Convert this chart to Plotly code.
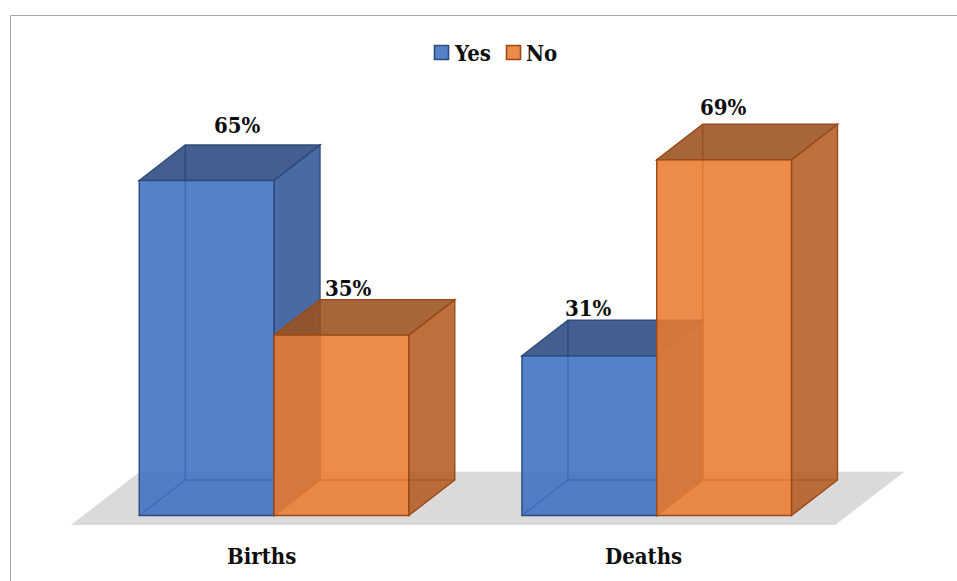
import plotly.graph_objects as go

# ---- data ----
categories = ["Births", "Deaths"]
series_names = ["Yes", "No"]
yes_values = [65, 31]
no_values = [35, 69]

# ---- styling / geometry (category units on x, percent on y) ----
BAR_W = 0.3522          # width of one bar
DEPTH_X = 0.1202        # oblique projection of the box depth along x
DEPTH_Y = 6.886         # oblique projection of the box depth along y
FLOOR_MARGIN = 0.1463   # floor overhang beyond the outer bars
FLOOR_D0, FLOOR_D1 = -0.268, 1.234  # floor depth extent (box depth = 0..1)

FONT = "DejaVu Serif Condensed, DejaVu Serif, serif"
FONT_SIZE = 22
TEXT_COLOR = "#0d0d0d"

ALPHA = 0.88
STYLE = {
    "Yes": dict(front=(61, 111, 193), side=(49, 85, 152), top=(41, 72, 127), edge="#2f4b7c"),
    "No": dict(front=(233, 123, 49), side=(180, 91, 34), top=(154, 81, 31), edge="#994a16"),
}
# text offsets (px) of the value labels, per category
LABEL_SHIFT = {"Yes": [(31, 20), (-1, 12)], "No": [(7, 12), (-1, 17)]}


def rgba(c, a=ALPHA):
    return f"rgba({c[0]},{c[1]},{c[2]},{a})"


def path(points, close=True):
    s = "M " + " L ".join(f"{x:.5f},{y:.5f}" for x, y in points)
    return s + (" Z" if close else "")


fig = go.Figure()
shapes = []
annotations = []

# floor
xl = -BAR_W - FLOOR_MARGIN
xr = (len(categories) - 1) + BAR_W + FLOOR_MARGIN
floor_pts = [
    (xl + FLOOR_D0 * DEPTH_X, FLOOR_D0 * DEPTH_Y),
    (xr + FLOOR_D0 * DEPTH_X, FLOOR_D0 * DEPTH_Y),
    (xr + FLOOR_D1 * DEPTH_X, FLOOR_D1 * DEPTH_Y),
    (xl + FLOOR_D1 * DEPTH_X, FLOOR_D1 * DEPTH_Y),
]
shapes.append(dict(type="path", xref="x", yref="y", layer="below", path=path(floor_pts),
                   fillcolor="#dbdadb", line=dict(width=0)))

series = {"Yes": yes_values, "No": no_values}
offsets = {"Yes": -BAR_W, "No": 0.0}

# boxes drawn left to right so nearer faces overlap farther ones
for ci, cat in enumerate(categories):
    for name in series_names:
        h = series[name][ci]
        st = STYLE[name]
        x0 = ci + offsets[name]
        x1 = x0 + BAR_W
        # hidden edges (seen through the translucent faces)
        shapes.append(dict(type="path", xref="x", yref="y", layer="below",
                           path=path([(x0, 0), (x0 + DEPTH_X, DEPTH_Y), (x0 + DEPTH_X, h + DEPTH_Y)], close=False)
                           + " " + path([(x0 + DEPTH_X, DEPTH_Y), (x1 + DEPTH_X, DEPTH_Y)], close=False),
                           line=dict(color=st["edge"], width=1.4)))
        # right side face
        shapes.append(dict(type="path", xref="x", yref="y", layer="below",
                           path=path([(x1, 0), (x1 + DEPTH_X, DEPTH_Y), (x1 + DEPTH_X, h + DEPTH_Y), (x1, h)]),
                           fillcolor=rgba(st["side"]), line=dict(color=st["edge"], width=1.4)))
        # top face
        shapes.append(dict(type="path", xref="x", yref="y", layer="below",
                           path=path([(x0, h), (x1, h), (x1 + DEPTH_X, h + DEPTH_Y), (x0 + DEPTH_X, h + DEPTH_Y)]),
                           fillcolor=rgba(st["top"]), line=dict(color=st["edge"], width=1.4)))
        # value label
        dx, dy = LABEL_SHIFT[name][ci]
        annotations.append(dict(x=(x0 + x1) / 2, y=h + DEPTH_Y, xref="x", yref="y",
                                text=f"<b>{h}%</b>", showarrow=False, xanchor="center", yanchor="middle",
                                xshift=dx, yshift=dy, font=dict(family=FONT, size=FONT_SIZE, color=TEXT_COLOR)))

# front faces as bars
for name in series_names:
    st = STYLE[name]
    fig.add_trace(go.Bar(
        name=name, x=list(range(len(categories))), y=series[name], base=0,
        width=BAR_W, offset=offsets[name],
        marker=dict(color=rgba(st["front"]), line=dict(color=st["edge"], width=1.4)),
        showlegend=False, hoverinfo="skip",
    ))

# category labels
for ci, cat in enumerate(categories):
    annotations.append(dict(x=ci, y=1 - 556 / 581, xref="x", yref="paper", text=f"<b>{cat}</b>",
                            showarrow=False, xanchor="center", yanchor="middle", xshift=-13,
                            font=dict(family=FONT, size=FONT_SIZE, color=TEXT_COLOR)))

# legend
W_PX, H_PX = 957, 581
legend_items = [("Yes", 434), ("No", 506)]
for name, px in legend_items:
    st = STYLE[name]
    shapes.append(dict(type="rect", xref="paper", yref="paper",
                       x0=(px + 0.5) / W_PX, x1=(px + 14.5) / W_PX,
                       y0=1 - 59.5 / H_PX, y1=1 - 45.5 / H_PX,
                       fillcolor=rgba(st["front"]), line=dict(color=st["edge"], width=1.6)))
    annotations.append(dict(x=(px + 18) / W_PX, y=1 - 52.5 / H_PX, xref="paper", yref="paper",
                            text=f"<b>{name}</b>", showarrow=False, xanchor="left", yanchor="middle",
                            font=dict(family=FONT, size=FONT_SIZE, color=TEXT_COLOR)))

# chart border
shapes.append(dict(type="rect", xref="paper", yref="paper",
                   x0=10.5 / W_PX, x1=1.05, y0=-0.05, y1=1 - 15.5 / H_PX,
                   line=dict(color="#a6a6a6", width=1), fillcolor="rgba(0,0,0,0)"))

fig.update_layout(
    width=W_PX, height=H_PX,
    margin=dict(l=0, r=0, t=0, b=0),
    paper_bgcolor="white", plot_bgcolor="white",
    xaxis=dict(range=[-0.71597, 1.78468], visible=False, fixedrange=True),
    yaxis=dict(range=[-12.7, 100.0], visible=False, fixedrange=True),
    shapes=shapes, annotations=annotations, showlegend=False,
    barmode="overlay",
)

fig.write_html("out.html")
